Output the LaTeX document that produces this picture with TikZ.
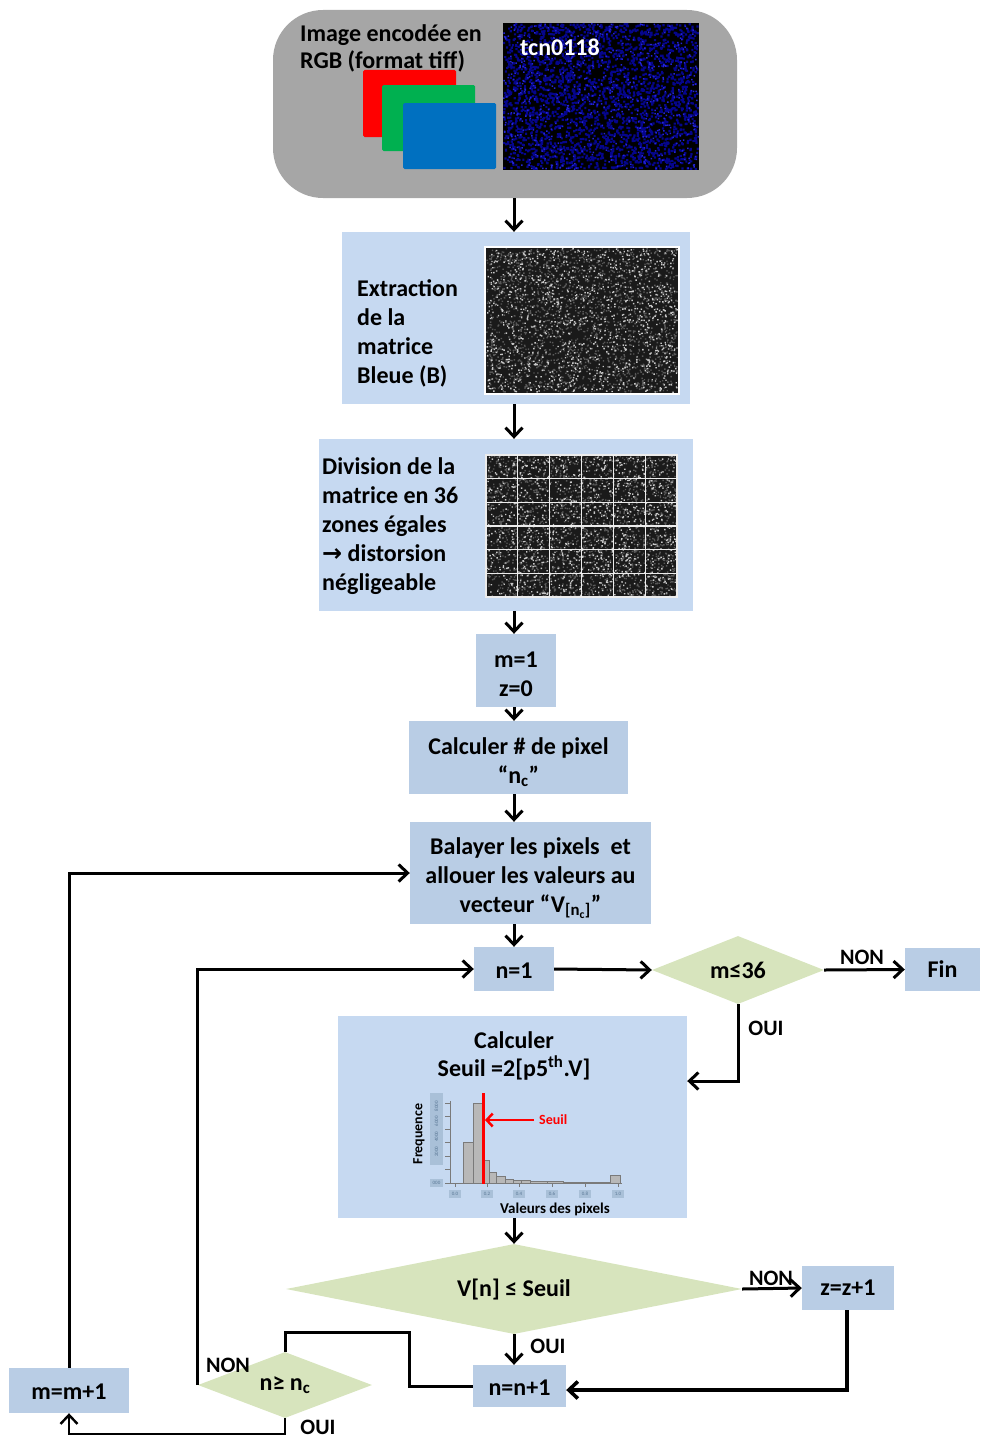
\documentclass[tikz,border=0pt]{standalone}
\usepackage{fontspec}
\setmainfont{Carlito}
\newfontfamily\symfont{DejaVu Sans}
\usetikzlibrary{arrows.meta,shapes.geometric,calc}
\definecolor{lbox}{HTML}{C6D9F1}
\definecolor{dbox}{HTML}{B9CDE5}
\definecolor{dia}{HTML}{D7E4BD}
\definecolor{graybg}{HTML}{A6A6A6}
\definecolor{rgbred}{HTML}{FF0000}
\definecolor{rgbgreen}{HTML}{00B050}
\definecolor{rgbblue}{HTML}{0070C0}
\definecolor{nblue1}{HTML}{05058C}
\definecolor{nblue2}{HTML}{2424D8}
\definecolor{ngray1}{HTML}{585858}
\definecolor{ngray2}{HTML}{C8C8C8}
\definecolor{nbg}{HTML}{1A1A1A}
\definecolor{axlab}{HTML}{A9C0D8}
\definecolor{axtxt}{HTML}{5A7896}
\definecolor{barfill}{HTML}{B8B8B8}
\definecolor{bardraw}{HTML}{7A7A7A}
\begin{document}
\begin{tikzpicture}[x=1pt,y=-1pt,
  font=\fontsize{24}{29}\selectfont\bfseries,
  boxl/.style={fill=lbox, inner sep=0pt, align=center},
  boxd/.style={fill=dbox, inner sep=0pt, align=center},
  txt/.style={inner sep=0pt, align=center},
  dec/.style={diamond, fill=dia, inner sep=0pt, align=center},
  arr/.style={line width=3pt, -{Straight Barb[length=9pt,width=17pt]}},
  conn/.style={line width=3pt},
  lbl/.style={font=\fontsize{22}{26}\selectfont\bfseries, inner sep=0pt},
  tiny/.style={font=\fontsize{5}{6}\selectfont, text=axtxt, inner sep=0pt},
  bar/.style={fill=barfill, draw=bardraw, line width=0.7pt},
  axis/.style={draw=bardraw, line width=1pt}
]
\useasboundingbox (0,0) rectangle (980,1437);
\pgfmathsetseed{7}
\coordinate (ax) at (514,0);

% ---------- top gray block ----------
\node[fill=graybg, rounded corners=50pt, minimum width=464pt, minimum height=188pt, inner sep=0pt] (top) at (505,104) {};
\fill[rgbred, rounded corners=1.5pt] (363,70) rectangle (456,137);
\fill[rgbgreen, rounded corners=1.5pt] (382,85) rectangle (475,151);
\fill[rgbblue, rounded corners=1.5pt] (403,103) rectangle (496,169);
\node[anchor=west, align=left, inner sep=0pt, font=\fontsize{24}{27}\selectfont\bfseries] (toptxt) at (300,48.5) {Image encodée en\\RGB (format tiff)};
% blue noise image
\fill[black] (503,23) rectangle (699,170);
\fill[nblue1] \foreach \i in {1,...,2600}{ (503+193.8*rnd, 23+144.8*rnd) rectangle ++(2.2,2.2) };
\fill[nblue2] \foreach \i in {1,...,600}{ (503+194.5*rnd, 23+145.5*rnd) rectangle ++(1.5,1.5) };
\node[anchor=west, text=white, inner sep=0pt] (tcn) at (520,47) {tcn0118};

% ---------- extraction ----------
\node[boxl, minimum width=348pt, minimum height=172pt] (ext) at (516,318) {};
\fill[white] (484,246) rectangle (680,395);
\fill[nbg] (486,248) rectangle (678,393);
\fill[ngray1] \foreach \i in {1,...,2200}{ (486+190.6*rnd, 248+143.6*rnd) rectangle ++(1.4,1.4) };
\fill[ngray2] \foreach \i in {1,...,1100}{ (486+190.6*rnd, 248+143.6*rnd) rectangle ++(1.4,1.4) };
\node[anchor=west, align=left, inner sep=0pt] (exttxt) at (357,333) {Extraction\\de la\\matrice\\Bleue (B)};

% ---------- division ----------
\node[boxl, minimum width=374pt, minimum height=172pt] (div) at (506,525) {};
\fill[nbg] (486,455) rectangle (677,597);
\fill[ngray1] \foreach \i in {1,...,2200}{ (486+189.6*rnd, 455+140.6*rnd) rectangle ++(1.4,1.4) };
\fill[ngray2] \foreach \i in {1,...,1100}{ (486+189.6*rnd, 455+140.6*rnd) rectangle ++(1.4,1.4) };
\draw[white!85!gray, line width=1.1pt] (486,455) rectangle (677,597);
\foreach \k in {1,...,5}{
  \draw[white!85!gray, line width=1.1pt] ({486+\k*191/6},455) -- ({486+\k*191/6},597);
  \draw[white!85!gray, line width=1.1pt] (486,{455+\k*142/6}) -- (677,{455+\k*142/6});
}
\node[anchor=west, align=left, inner sep=0pt] (divtxt) at (322,526) {Division de la\\matrice en 36\\zones égales\\{\symfont\bfseries →} distorsion\\négligeable};

% ---------- process boxes ----------
\node[boxd, minimum width=80pt, minimum height=73pt] (m1) at (516,670.5) {};
\node[txt] (m1txt) at (516,674) {m=1\\z=0};
\node[boxd, minimum width=219pt, minimum height=73pt] (calc) at (518.5,757.5) {};
\node[txt] (calctxt) at (518.5,762) {Calculer \# de pixel\\“n\textsubscript{c}”};
\node[boxd, minimum width=241pt, minimum height=102pt] (bal) at (530.5,873) {};
\node[txt] (baltxt) at (530.5,878) {Balayer les pixels\ \ et\\allouer les valeurs au\\vecteur “V\textsubscript{[n\textsubscript{c}]}”};
\node[boxd, minimum width=80pt, minimum height=44pt] (n1) at (514,969) {};
\node[txt] (n1txt) at (514,971) {n=1};
\node[dec, aspect=2.5, minimum width=172pt, minimum height=68pt] (d36) at (738,970) {m≤36};
\node[boxd, minimum width=75pt, minimum height=43pt] (fin) at (942.5,969.5) {Fin};

% ---------- seuil box ----------
\node[boxl, minimum width=349pt, minimum height=202pt] (seuil) at (512.5,1117) {};
\node[align=center, inner sep=0pt, font=\fontsize{24}{28}\selectfont\bfseries] (seuiltxt) at (514,1056) {Calculer\\Seuil =2[p5\textsuperscript{th}.V]};
% histogram
\fill[axlab] (430,1093) rectangle (443,1165);
\node[tiny, rotate=90] (ylab) at (436.5,1129) {2000\quad 4000\quad 6000\quad 8000};
\fill[axlab] (430,1179) rectangle (443,1187);
\node[tiny] (ylab0) at (436.5,1183) {000};
\foreach \a/\b/\t in {463.3/473.3/1142.7, 473.3/482.3/1103.3, 482.3/489.3/1160, 489.3/496.7/1172.7, 496.7/505/1176.7, 505/513.3/1179, 513.3/521.7/1180, 521.7/530/1180.5, 530/547/1181, 547/563.3/1181.5, 563.3/610/1182, 610/620.7/1175}
  \filldraw[bar] (\a,1183) rectangle (\b,\t);
\draw[axis] (450,1101) -- (450,1183) -- (622,1183);
\foreach \y in {1103,1116,1129,1142,1156,1169,1183} \draw[axis] (445,\y) -- (450,\y);
\foreach \x/\t in {455/0.0, 487/0.2, 519/0.4, 552/0.6, 585/0.8, 618/1.0}{
  \draw[axis] (\x,1183) -- (\x,1187);
  \fill[axlab] (\x-6,1190) rectangle (\x+6,1198);
  \node[tiny] at (\x,1194) {\t};
}
\draw[rgbred, line width=3pt] (483,1093) -- (483,1184);
\node[anchor=west, text=rgbred, inner sep=0pt, font=\fontsize{14}{16}\selectfont\bfseries] (seuillbl) at (539,1120) {Seuil};
\coordinate (redpt) at (485,1120);
\draw[rgbred, line width=2.5pt, -{Straight Barb[length=6pt,width=13pt]}] ([xshift=-5pt]seuillbl.west) -- (redpt);
\node[rotate=90, inner sep=0pt, font=\fontsize{14}{16}\selectfont\bfseries] (freq) at (419,1134) {Frequence};
\node[inner sep=0pt, font=\fontsize{15}{17}\selectfont\bfseries] (vdp) at (555,1209) {Valeurs des pixels};

% ---------- lower part ----------
\node[dec, aspect=5, minimum width=456pt, minimum height=90pt] (dv) at (514,1289) {V[n] ≤ Seuil};
\node[boxd, minimum width=92pt, minimum height=44pt] (zz) at (848,1288) {z=z+1};
\node[boxd, minimum width=93pt, minimum height=42pt] (nn) at (519.5,1386) {};
\node[txt] (nntxt) at (519.5,1388) {n=n+1};
\node[dec, aspect=2.6, minimum width=174pt, minimum height=66pt] (dnc) at (285,1385) {n≥ n\textsubscript{c}};
\node[boxd, minimum width=120pt, minimum height=45pt] (mm) at (69,1390.5) {};
\node[txt] (mmtxt) at (69,1392) {m=m+1};

% ---------- connectors ----------
\draw[arr] (top.south -| ax) -- (ext.north -| ax);
\draw[arr] (ext.south -| ax) -- (div.north -| ax);
\draw[arr] (div.south -| ax) -- (m1.north -| ax);
\draw[arr] (m1.south -| ax) -- (calc.north -| ax);
\draw[arr] (calc.south -| ax) -- (bal.north -| ax);
\draw[arr] (bal.south -| ax) -- (n1.north -| ax);
\draw[arr] (n1.east) -- (d36.west);
\draw[arr] (d36.east) -- (fin.west);
\node[lbl] (non1) at (862,957) {NON};
\coordinate (c1) at (738,1081);
\draw[arr] (d36.south) -- (c1) -- (c1 -| seuil.east);
\node[lbl] (oui1) at (766,1028) {OUI};
\draw[arr] (seuil.south -| ax) -- (dv.north -| ax);
\draw[arr] (dv.east) -- (zz.west);
\node[lbl] (non2) at (771,1278) {NON};
\coordinate (c4) at (847,1390);
\draw[arr, line width=3.6pt] (zz.south -| c4) -- (c4) -- (c4 -| nn.east);
\draw[arr] (dv.south -| ax) -- (nn.north -| ax);
\node[lbl] (oui2) at (548,1346) {OUI};
\coordinate (c2) at (409,1332);
\draw[conn] (nn.west) -| (c2) -| (dnc.north);
\draw[arr] (dnc.west) |- (n1.west);
\node[lbl] (non3) at (228,1365) {NON};
\coordinate (c3) at (285,1434);
\draw[arr, line width=2.4pt] (dnc.south) -- (c3) -| (mm.south);
\node[lbl] (oui3) at (318,1427) {OUI};
\draw[arr] (mm.north) |- (bal.west);
\end{tikzpicture}
\end{document}
